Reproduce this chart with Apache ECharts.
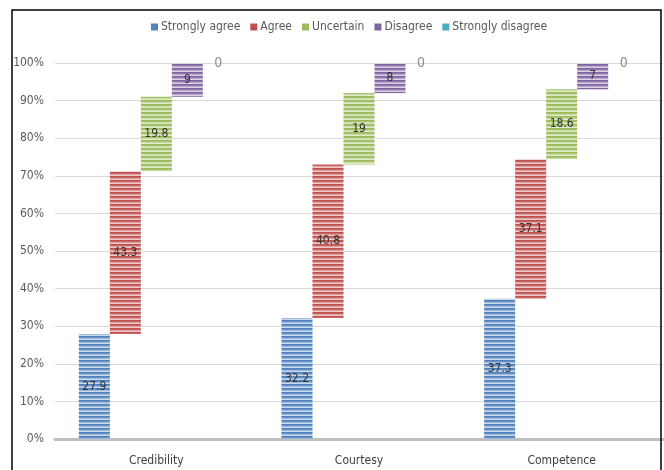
<!DOCTYPE html>
<html>
<head>
<meta charset="utf-8">
<script src="https://cdn.jsdelivr.net/npm/echarts@6/dist/echarts.min.js"></script>
<style>
  html, body { margin: 0; padding: 0; background: #fff; }
  #chart { width: 664px; height: 470px; }
</style>
</head>
<body>
<div id="chart"></div>
<script>
// Survey responses per dimension (percent)
const categories = ['Credibility', 'Courtesy', 'Competence'];
const seriesNames = ['Strongly agree', 'Agree', 'Uncertain', 'Disagree', 'Strongly disagree'];
const stronglyAgree = [27.9, 32.2, 37.3];
const agree = [43.3, 40.8, 37.1];
const uncertain = [19.8, 19, 18.6];
const disagree = [9, 8, 7];
const stronglyDisagree = [0, 0, 0];
const yTickStep = 10;

const values = [stronglyAgree, agree, uncertain, disagree, stronglyDisagree];
const colors = ['#4F81BD', '#C0504D', '#9BBB59', '#8064A2', '#4BACC6'];
const FONT = '"DejaVu Sans Condensed", "Liberation Sans Narrow", sans-serif';

function mix(hex, t) {
  const n = parseInt(hex.slice(1), 16);
  const r = (n >> 16) & 255, g = (n >> 8) & 255, b = n & 255;
  const m = c => Math.round(c + (255 - c) * t);
  return 'rgb(' + m(r) + ',' + m(g) + ',' + m(b) + ')';
}

// Horizontal striped fill for the columns
function stripes(hex) {
  const c = document.createElement('canvas');
  c.width = 4; c.height = 4;
  const ctx = c.getContext('2d');
  const rows = [mix(hex, 0.0), mix(hex, 0.12), mix(hex, 0.45), mix(hex, 0.7)];
  rows.forEach((col, i) => { ctx.fillStyle = col; ctx.fillRect(0, i, 4, 1); });
  return { image: c, repeat: 'repeat' };
}

const series = [];
values.forEach((vals, i) => {
  // offset each column by the cumulative share of the preceding responses
  const base = categories.map((_, j) => {
    let s = 0;
    for (let k = 0; k < i; k++) s += values[k][j];
    return +s.toFixed(2);
  });
  const stack = 's' + i;
  series.push({
    type: 'bar', name: '_base' + i, stack: stack, data: base,
    barWidth: 31, barGap: '0%', silent: true,
    itemStyle: { color: 'transparent' }, label: { show: false }
  });
  const isZero = i === 4;
  series.push({
    type: 'bar', name: seriesNames[i], stack: stack, data: vals,
    barWidth: 31, barGap: '0%',
    itemStyle: { color: stripes(colors[i]) },
    label: {
      show: true, position: 'inside',
      fontFamily: FONT, fontSize: isZero ? 14 : 12,
      color: isZero ? '#8c8c8c' : '#333333'
    }
  });
});

const chart = echarts.init(document.getElementById('chart'), null, { renderer: 'canvas' });
chart.setOption({
  animation: false,
  backgroundColor: '#fff',
  grid: { left: 55, right: 1, top: 63, bottom: 31, containLabel: false },
  legend: {
    top: 16, left: 146,
    itemWidth: 7, itemHeight: 7, itemGap: 10,
    textStyle: { fontFamily: FONT, fontSize: 12, color: '#595959', padding: [0, 0, 0, -2] },
    data: seriesNames.map((n, i) => ({ name: n, icon: 'rect', itemStyle: { color: colors[i] } }))
  },
  xAxis: {
    type: 'category', data: categories,
    axisLine: { lineStyle: { color: '#bfbfbf', width: 3 } },
    axisTick: { show: false },
    axisLabel: { fontFamily: FONT, fontSize: 12, color: '#404040', margin: 16 }
  },
  yAxis: {
    type: 'value', min: 0, max: 100, interval: yTickStep,
    axisLine: { show: false }, axisTick: { show: false },
    axisLabel: { formatter: '{value}%', fontFamily: FONT, fontSize: 12, color: '#595959', margin: 11 },
    splitLine: { lineStyle: { color: '#d9d9d9', width: 1 } }
  },
  series: series,
  graphic: [{
    type: 'rect', silent: true, z: 100,
    shape: { x: 12, y: 10, width: 649, height: 480 },
    style: { fill: 'none', stroke: '#000', lineWidth: 1.5 }
  }]
});
</script>
</body>
</html>
